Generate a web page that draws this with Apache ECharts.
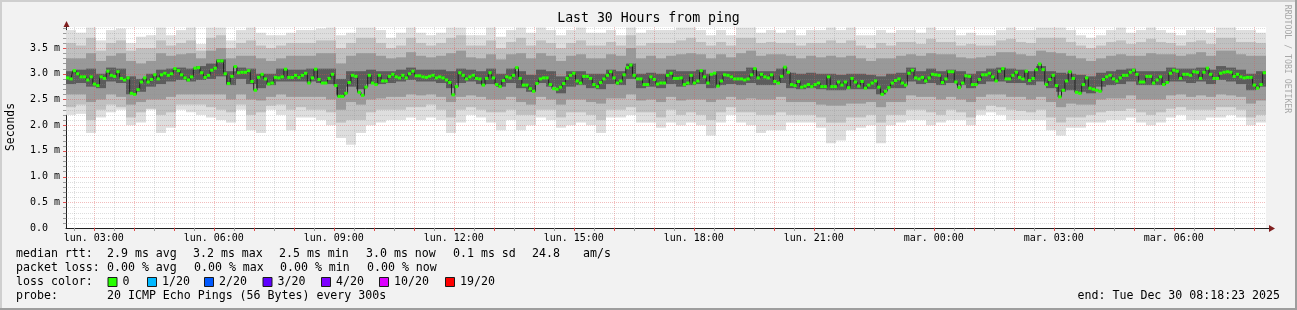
<!DOCTYPE html>
<html><head><meta charset="utf-8">
<script src="https://cdn.jsdelivr.net/npm/echarts@6/dist/echarts.min.js"></script>
<style>html,body{margin:0;padding:0;background:#f2f2f2}#c{width:1297px;height:310px}</style>
</head><body><div id="c"></div>
<script>
// ---------- data ----------
const START_HOUR = 2 + 18/60 + 23/3600;   // lun. 02:18:23
const SPAN_HOURS = 30;
const SMOKE_STEP_HOURS = 0.25;
const Y_MAX = 3.91;

// median rtt (ms), one value per ~5 min sample
const medianRtt = [
2.92,2.90,3.06,3.00,2.94,2.94,2.88,2.94,2.80,2.77,
2.94,2.91,3.05,2.97,2.95,3.04,2.91,2.88,2.92,2.62,
2.60,2.69,2.84,2.92,2.84,2.89,2.98,2.90,2.98,3.01,
2.97,3.00,3.10,3.06,2.98,2.92,2.88,2.94,3.11,3.12,
3.02,2.93,2.97,3.07,3.11,3.25,3.25,3.00,2.81,2.95,
3.14,3.02,3.03,3.03,3.06,2.85,2.68,2.93,2.99,2.90,
2.80,2.82,2.93,2.92,2.94,3.09,2.93,2.93,2.97,2.93,
2.97,3.01,
2.82,2.92,3.09,2.89,2.82,2.82,2.91,2.99,2.77,2.56,
2.56,2.62,2.83,2.97,2.95,2.64,2.58,2.74,2.97,2.82,
2.79,2.97,2.86,2.86,2.95,2.99,2.94,2.92,2.97,2.92,
3.00,3.05,2.96,2.96,2.94,2.93,2.95,2.97,2.92,2.94,
2.92,2.88,2.83,2.59,2.75,3.02,2.97,2.90,2.94,2.97,
2.91,2.90,2.78,2.91,3.02,2.92,2.79,2.75,2.87,2.94,
2.92,2.97,3.12,2.91,2.78,2.78,2.71,2.66,2.81,2.90,
2.92,2.92,
2.79,2.71,2.70,2.74,2.81,2.91,2.97,3.01,2.86,2.82,
2.95,2.95,2.91,2.79,2.75,2.83,2.90,2.97,3.04,2.92,
2.82,2.86,2.98,3.12,3.17,2.97,2.90,2.90,2.79,2.79,
2.94,2.89,2.80,2.82,2.82,2.97,3.01,2.91,2.91,2.92,
2.79,2.82,2.97,2.82,2.86,3.06,2.94,2.82,2.99,3.01,
2.76,2.86,2.98,2.97,2.94,2.90,2.90,2.90,2.88,2.90,
2.98,3.10,2.92,2.99,2.94,2.92,2.98,2.85,2.82,2.95,
3.13,3.03,
2.79,2.77,2.85,2.74,2.76,2.79,2.75,2.79,2.82,2.75,
2.75,2.94,2.75,2.75,2.84,2.78,2.84,2.73,2.91,2.84,
2.76,2.85,2.72,2.78,2.82,2.86,2.74,2.60,2.66,2.73,
2.82,2.87,2.90,2.82,2.78,3.01,3.07,2.92,2.90,2.93,
2.86,2.92,2.99,2.98,2.97,2.83,2.90,3.04,3.04,2.84,
2.73,2.82,2.96,2.95,2.79,2.79,2.89,2.98,2.98,3.01,
2.94,2.86,3.05,3.10,2.90,2.90,2.97,3.03,2.93,2.90,
3.05,2.87,
2.91,3.08,3.19,3.08,2.79,2.89,2.97,2.77,2.55,2.68,
2.86,3.04,2.91,2.64,2.62,2.79,2.92,2.72,2.70,2.68,
2.66,2.89,2.94,2.97,2.90,2.86,2.92,2.97,2.97,3.03,
3.07,2.99,2.84,2.84,2.95,2.95,2.82,2.88,2.94,2.79,
2.83,3.01,3.07,3.05,2.91,2.99,2.99,2.97,3.04,3.03,
2.91,3.03,3.11,2.99,2.91,2.91,3.01,3.03,3.04,3.03,
2.95,2.99,2.94,2.92,2.93,2.93,2.78,2.72,2.79,3.02
];

// smoke: ping spread per 15-min column, outermost (1) to innermost (4)
const smokeUp1 = [
3.85,3.80,3.90,3.65,3.85,3.88,3.60,3.72,3.75,3.90,3.75,3.85,3.90,3.58,3.90,3.90,3.65,3.85,3.90,3.80,3.75,3.75,3.80,3.85,
3.85,3.88,3.90,3.75,3.80,3.90,3.90,3.85,3.70,3.80,3.90,3.80,3.75,3.80,3.90,3.90,3.75,3.75,3.90,3.72,3.85,3.90,3.80,3.90,
3.85,3.75,3.85,3.90,3.80,3.80,3.85,3.75,3.90,3.80,3.85,3.85,3.85,3.90,3.90,3.85,3.75,3.85,3.75,3.90,3.90,3.80,3.85,3.80,
3.85,3.75,3.85,3.85,3.90,3.85,3.90,3.75,3.75,3.85,3.80,3.85,3.85,3.80,3.90,3.85,3.85,3.75,3.80,3.75,3.75,3.85,3.90,3.85,
3.85,3.90,3.90,3.90,3.85,3.75,3.70,3.75,3.85,3.90,3.80,3.85,3.90,3.85,3.80,3.75,3.85,3.85,3.80,3.90,3.90,3.85,3.85,3.80];
const smokeUp2 = [
3.60,3.55,3.70,3.45,3.60,3.65,3.45,3.50,3.50,3.65,3.55,3.60,3.65,3.45,3.70,3.75,3.50,3.60,3.65,3.55,3.50,3.55,3.60,3.60,
3.60,3.65,3.65,3.50,3.60,3.70,3.70,3.60,3.50,3.55,3.70,3.60,3.55,3.60,3.70,3.75,3.55,3.55,3.65,3.50,3.62,3.70,3.55,3.65,
3.60,3.50,3.60,3.65,3.55,3.55,3.62,3.55,3.75,3.55,3.60,3.60,3.60,3.65,3.70,3.62,3.55,3.62,3.55,3.70,3.70,3.60,3.62,3.60,
3.60,3.55,3.60,3.60,3.65,3.60,3.65,3.55,3.50,3.60,3.55,3.62,3.62,3.58,3.68,3.62,3.62,3.55,3.58,3.55,3.55,3.65,3.68,3.62,
3.60,3.70,3.70,3.70,3.62,3.55,3.50,3.55,3.62,3.65,3.58,3.62,3.68,3.62,3.60,3.55,3.62,3.65,3.58,3.70,3.70,3.62,3.62,3.60];
const smokeUp3 = [
3.30,3.30,3.40,3.25,3.35,3.40,3.25,3.20,3.25,3.40,3.35,3.38,3.40,3.30,3.45,3.50,3.30,3.35,3.35,3.30,3.25,3.30,3.35,3.35,
3.35,3.40,3.40,3.20,3.35,3.40,3.40,3.35,3.30,3.32,3.42,3.35,3.32,3.35,3.40,3.45,3.32,3.30,3.38,3.28,3.38,3.40,3.30,3.40,
3.35,3.25,3.35,3.38,3.30,3.30,3.38,3.35,3.50,3.30,3.35,3.30,3.35,3.38,3.40,3.38,3.30,3.38,3.32,3.40,3.45,3.35,3.38,3.38,
3.35,3.30,3.35,3.32,3.35,3.32,3.35,3.30,3.25,3.30,3.30,3.35,3.38,3.35,3.40,3.38,3.38,3.32,3.30,3.32,3.35,3.42,3.42,3.38,
3.35,3.45,3.42,3.40,3.35,3.30,3.25,3.30,3.35,3.38,3.35,3.35,3.40,3.38,3.38,3.35,3.38,3.42,3.35,3.45,3.45,3.38,3.35,3.35];
const smokeUp4 = [
3.05,3.08,3.10,3.00,3.12,3.10,2.95,2.90,3.00,3.08,3.10,3.12,3.10,3.15,3.20,3.28,3.05,3.12,3.10,3.00,3.00,3.10,3.08,3.08,
3.10,3.10,3.10,2.90,3.05,3.05,3.08,3.05,3.05,3.08,3.12,3.08,3.08,3.08,3.05,3.10,3.08,3.05,3.10,3.00,3.10,3.05,2.98,3.08,
3.05,2.95,3.05,3.05,3.00,3.00,3.08,3.05,3.20,3.00,3.02,3.00,3.08,3.05,3.05,3.08,3.00,3.05,3.05,3.05,3.12,3.05,3.05,3.10,
3.02,3.00,3.02,3.00,3.00,2.98,3.00,3.00,2.98,2.95,3.00,3.02,3.12,3.05,3.10,3.05,3.08,3.05,3.00,3.05,3.10,3.12,3.10,3.08,
3.05,3.15,3.05,3.02,3.00,2.98,2.95,3.02,3.05,3.08,3.10,3.05,3.05,3.05,3.12,3.10,3.10,3.12,3.08,3.15,3.12,3.08,3.00,3.05];
const smokeDn4 = [
2.80,2.82,2.75,2.72,2.85,2.82,2.60,2.65,2.75,2.80,2.85,2.88,2.85,2.88,2.90,2.95,2.78,2.90,2.80,2.72,2.78,2.85,2.85,2.85,
2.85,2.82,2.80,2.58,2.75,2.70,2.80,2.80,2.82,2.85,2.88,2.85,2.85,2.82,2.72,2.82,2.85,2.80,2.80,2.75,2.82,2.72,2.65,2.82,
2.75,2.62,2.75,2.78,2.72,2.70,2.80,2.78,2.90,2.72,2.75,2.72,2.80,2.75,2.78,2.80,2.72,2.78,2.80,2.78,2.82,2.78,2.78,2.82,
2.72,2.70,2.72,2.70,2.68,2.68,2.70,2.70,2.70,2.60,2.72,2.72,2.85,2.80,2.82,2.78,2.82,2.78,2.72,2.80,2.85,2.85,2.82,2.82,
2.78,2.85,2.72,2.65,2.68,2.65,2.62,2.75,2.78,2.80,2.85,2.78,2.78,2.78,2.85,2.85,2.82,2.85,2.80,2.88,2.85,2.80,2.68,2.75];
const smokeDn3 = [
2.60,2.60,2.45,2.50,2.60,2.55,2.40,2.45,2.50,2.50,2.55,2.60,2.60,2.60,2.60,2.60,2.50,2.60,2.50,2.48,2.55,2.60,2.55,2.55,
2.55,2.55,2.50,2.30,2.45,2.40,2.50,2.52,2.55,2.55,2.60,2.58,2.60,2.55,2.45,2.55,2.58,2.55,2.50,2.50,2.55,2.45,2.40,2.55,
2.50,2.40,2.50,2.50,2.45,2.42,2.52,2.52,2.60,2.48,2.50,2.45,2.55,2.48,2.50,2.50,2.45,2.50,2.55,2.50,2.52,2.50,2.50,2.55,
2.45,2.45,2.45,2.40,2.38,2.38,2.42,2.42,2.45,2.35,2.45,2.45,2.58,2.55,2.55,2.50,2.55,2.50,2.45,2.55,2.60,2.60,2.55,2.55,
2.50,2.55,2.45,2.35,2.42,2.40,2.40,2.50,2.52,2.52,2.58,2.50,2.50,2.50,2.58,2.60,2.55,2.58,2.55,2.60,2.58,2.55,2.42,2.48];
const smokeDn2 = [
2.35,2.40,2.10,2.30,2.40,2.35,2.15,2.25,2.32,2.20,2.25,2.40,2.40,2.40,2.35,2.30,2.25,2.40,2.20,2.25,2.38,2.40,2.30,2.35,
2.30,2.30,2.25,2.05,2.10,2.10,2.25,2.30,2.30,2.30,2.35,2.35,2.40,2.30,2.15,2.30,2.35,2.30,2.25,2.25,2.30,2.20,2.20,2.30,
2.30,2.15,2.25,2.25,2.20,2.10,2.30,2.30,2.35,2.25,2.25,2.15,2.30,2.20,2.25,2.20,2.10,2.25,2.35,2.25,2.25,2.20,2.20,2.25,
2.20,2.20,2.20,2.15,2.05,2.05,2.15,2.15,2.20,2.05,2.20,2.20,2.30,2.30,2.25,2.20,2.30,2.25,2.15,2.30,2.38,2.35,2.30,2.28,
2.25,2.30,2.15,2.05,2.15,2.15,2.20,2.25,2.28,2.28,2.32,2.25,2.20,2.25,2.32,2.35,2.30,2.30,2.30,2.35,2.35,2.30,2.15,2.20];
const smokeDn1 = [
2.20,2.22,1.85,2.15,2.25,2.30,2.00,2.05,2.30,1.85,1.95,2.30,2.25,2.20,2.15,2.10,2.05,2.30,1.90,1.85,2.30,2.20,1.90,2.15,
2.15,2.10,2.00,1.75,1.62,1.85,2.00,2.05,2.10,2.10,2.15,2.10,2.15,2.10,1.85,2.05,2.20,2.15,2.05,1.90,2.10,1.90,2.00,2.15,
2.10,1.95,2.00,2.05,2.00,1.85,2.15,2.15,2.20,2.05,2.05,1.95,2.05,2.00,2.05,2.00,1.80,2.05,2.20,2.05,2.00,1.85,1.90,1.90,
2.05,2.05,2.05,1.95,1.65,1.70,1.90,1.95,2.00,1.65,2.00,2.05,2.10,2.10,2.00,2.05,2.10,2.10,2.00,2.20,2.25,2.20,2.10,2.10,
2.10,2.10,1.90,1.80,1.95,1.95,2.05,2.05,2.10,2.10,2.15,2.05,2.00,2.05,2.15,2.20,2.10,2.10,2.15,2.15,2.20,2.15,2.00,2.05];

// axis ticks / labels
const xLabelHours = [3,6,9,12,15,18,21,24,27,30];
const xLabelTexts = ['lun. 03:00','lun. 06:00','lun. 09:00','lun. 12:00','lun. 15:00','lun. 18:00','lun. 21:00','mar. 00:00','mar. 03:00','mar. 06:00'];
const yTickValues = [0,0.5,1.0,1.5,2.0,2.5,3.0,3.5];
const yTickLabels = ['0.0','0.5 m','1.0 m','1.5 m','2.0 m','2.5 m','3.0 m','3.5 m'];
const hourGrid = [3,4,5,6,7,8,9,10,11,12,13,14,15,16,17,18,19,20,21,22,23,24,25,26,27,28,29,30,31,32];
const halfHourGrid = [2.5,3.5,4.5,5.5,6.5,7.5,8.5,9.5,10.5,11.5,12.5,13.5,14.5,15.5,16.5,17.5,18.5,19.5,20.5,21.5,22.5,23.5,24.5,25.5,26.5,27.5,28.5,29.5,30.5,31.5];
const yMajorGrid = [0.5,1.0,1.5,2.0,2.5,3.0,3.5];
const yMinorGrid = [0.1,0.2,0.3,0.4,0.6,0.7,0.8,0.9,1.1,1.2,1.3,1.4,1.6,1.7,1.8,1.9,2.1,2.2,2.3,2.4,2.6,2.7,2.8,2.9,3.1,3.2,3.3,3.4,3.6,3.7,3.8,3.9];

// legend texts
const titleText = 'Last 30 Hours from ping';
const yAxisName = 'Seconds';
const rttStats = ['2.9 ms avg','3.2 ms max','2.5 ms min','3.0 ms now','0.1 ms sd','24.8','am/s'];
const lossStats = ['0.00 % avg','0.00 % max','0.00 % min','0.00 % now'];
const lossLabels = ['0','1/20','2/20','3/20','4/20','10/20','19/20'];
const lossColors = ['#26ff00','#00b8ff','#0059ff','#5e00ff','#7e00ff','#dd00ff','#ff0000'];
const probeText = '20 ICMP Echo Pings (56 Bytes) every 300s';
const endText = 'end: Tue Dec 30 08:18:23 2025';
const watermark = 'RRDTOOL / TOBI OETIKER';

// ---------- build ----------
const N = medianRtt.length;
const sampleW = SPAN_HOURS / N;
const medianRects = medianRtt.map((v,i)=>[START_HOUR+i*sampleW, START_HOUR+(i+1)*sampleW, v]);
const medianLine = medianRtt.map((v,i)=>[START_HOUR+(i+0.5)*sampleW, v]);
const smokeData = smokeUp1.map((_,j)=>[START_HOUR+j*SMOKE_STEP_HOURS, START_HOUR+(j+1)*SMOKE_STEP_HOURS,
  smokeDn1[j], smokeDn2[j], smokeDn3[j], smokeDn4[j], smokeUp4[j], smokeUp3[j], smokeUp2[j], smokeUp1[j]]);
const gridData = [];
halfHourGrid.forEach(h=>gridData.push([h,0,0]));
hourGrid.forEach(h=>gridData.push([h,0,1]));
yMinorGrid.forEach(v=>gridData.push([START_HOUR,v,2]));
yMajorGrid.forEach(v=>gridData.push([START_HOUR,v,3]));

const SMOKE_COLORS = ['#dedede','#c0c0c0','#999999','#5c5c5c'];
const MINOR = 'rgba(143,143,143,0.3)';
const MAJOR = 'rgba(222,79,79,0.38)';
const MONO = '"DejaVu Sans Mono", monospace';
const LFONT = '11.6px ' + MONO;

function renderSmoke(params, api){
  const x0 = api.value(0), x1 = api.value(1);
  const children = [];
  for (let k=0;k<4;k++){
    const lo = api.value(2+k), hi = api.value(9-k);
    const a = api.coord([x0, hi]), b = api.coord([x1, lo]);
    children.push({type:'rect', shape:{x:a[0], y:a[1], width:b[0]-a[0], height:b[1]-a[1]}, style:{fill:SMOKE_COLORS[k]}});
  }
  return {type:'group', children};
}
function renderGrid(params, api){
  const kind = api.value(2);
  const col = (kind===1||kind===3) ? MAJOR : MINOR;
  if (kind < 2){
    const b = api.coord([api.value(0), 0]);
    const t = api.coord([api.value(0), Y_MAX]);
    const x = Math.round(b[0]) + 0.5;
    return {type:'group', children:[
      {type:'line', shape:{x1:x,y1:b[1],x2:x,y2:t[1]}, style:{stroke:col, lineWidth:1, lineDash:[1,1]}},
      {type:'line', shape:{x1:x,y1:b[1],x2:x,y2:b[1]+3}, style:{stroke:kind?'#de4f4f':'#9a9a9a', lineWidth:1}}
    ]};
  } else {
    const l = api.coord([START_HOUR, api.value(1)]);
    const r = api.coord([START_HOUR+SPAN_HOURS, api.value(1)]);
    const y = Math.round(l[1]) + 0.5;
    return {type:'group', children:[
      {type:'line', shape:{x1:l[0],y1:y,x2:r[0],y2:y}, style:{stroke:col, lineWidth:1, lineDash:[1,1]}},
      {type:'line', shape:{x1:l[0]-3,y1:y,x2:l[0],y2:y}, style:{stroke:kind===3?'#de4f4f':'#9a9a9a', lineWidth:1}}
    ]};
  }
}
function renderMedian(params, api){
  const a = api.coord([api.value(0), api.value(2)]);
  const b = api.coord([api.value(1), api.value(2)]);
  return {type:'rect', shape:{x:a[0], y:a[1]-1.5, width:b[0]-a[0], height:3}, style:{fill:lossColors[0]}};
}

function txt(text, x, y, opts){
  return Object.assign({type:'text', x, y, silent:true, style:Object.assign({text, fill:'#000', font:LFONT, textAlign:'left', textVerticalAlign:'middle'}, (opts&&opts.style)||{})}, opts&&opts.el||{});
}
const graphics = [];
// frame
graphics.push({type:'rect', shape:{x:0,y:0,width:1297,height:2}, style:{fill:'#cfcfcf'}, silent:true});
graphics.push({type:'rect', shape:{x:0,y:0,width:2,height:310}, style:{fill:'#cfcfcf'}, silent:true});
graphics.push({type:'rect', shape:{x:0,y:308,width:1297,height:2}, style:{fill:'#9e9e9e'}, silent:true});
graphics.push({type:'rect', shape:{x:1295,y:0,width:2,height:310}, style:{fill:'#9e9e9e'}, silent:true});
// arrows
graphics.push({type:'polygon', shape:{points:[[63.5,27],[69.5,27],[66.5,21]]}, style:{fill:'#801f1f'}, silent:true, z:10});
graphics.push({type:'line', shape:{x1:1266,y1:228.5,x2:1270,y2:228.5}, style:{stroke:'#1f1f1f', lineWidth:1}, silent:true, z:10});
graphics.push({type:'polygon', shape:{points:[[1269,225],[1269,232],[1275,228.5]]}, style:{fill:'#801f1f'}, silent:true, z:10});
// title, axis name, watermark
graphics.push(txt(titleText, 648.5, 19, {style:{font:'13.2px '+MONO, textAlign:'center'}}));
graphics.push(txt(yAxisName, 11, 127, {style:{font:'11.4px '+MONO, textAlign:'center'}, el:{rotation:Math.PI/2}}));
graphics.push(txt(watermark, 1287, 59, {style:{font:'8.2px '+MONO, textAlign:'center', fill:'#a8a8a8'}, el:{rotation:-Math.PI/2}}));
// legend line 1
graphics.push(txt('median rtt:', 16, 254));
[107,193,279,366,453,532,583].forEach((x,i)=>graphics.push(txt(rttStats[i], x, 254)));
// line 2
graphics.push(txt('packet loss:', 16, 268));
[107,194,280,367].forEach((x,i)=>graphics.push(txt(lossStats[i], x, 268)));
// line 3
graphics.push(txt('loss color:', 16, 282));
[107.5,147,204,262.5,321,379,445].forEach((x,i)=>{
  graphics.push({type:'rect', shape:{x:x+0.5,y:277.5,width:9,height:9}, style:{fill:lossColors[i], stroke:'#1a1a1a', lineWidth:1}, silent:true});
  graphics.push(txt(lossLabels[i], x+15, 282));
});
// line 4
graphics.push(txt('probe:', 16, 296));
graphics.push(txt(probeText, 107, 296));
graphics.push(txt(endText, 1280, 296, {style:{textAlign:'right'}}));

const chart = echarts.init(document.getElementById('c'), null, {renderer:'canvas'});
chart.setOption({
  animation:false,
  backgroundColor:'#f2f2f2',
  grid:{left:66, top:27, width:1200, height:201, show:true, backgroundColor:'#ffffff', borderWidth:0},
  xAxis:{
    type:'value', min:START_HOUR, max:START_HOUR+SPAN_HOURS,
    axisLine:{show:true, onZero:false, lineStyle:{color:'#1f1f1f', width:1}},
    axisTick:{show:false}, splitLine:{show:false},
    axisLabel:{customValues:xLabelHours, showMinLabel:true, showMaxLabel:true, hideOverlap:false,
      formatter:v=>{const i=xLabelHours.findIndex(h=>Math.abs(h-v)<1e-6); return i>=0?xLabelTexts[i]:'';},
      fontFamily:'DejaVu Sans Mono', fontSize:10, color:'#000', margin:5}
  },
  yAxis:{
    type:'value', min:0, max:Y_MAX, interval:0.5,
    axisLine:{show:true, lineStyle:{color:'#1f1f1f', width:1}},
    axisTick:{show:false}, splitLine:{show:false},
    axisLabel:{align:'left', margin:36, fontFamily:'DejaVu Sans Mono', fontSize:10, color:'#000', showMaxLabel:true,
      formatter:v=>{const i=yTickValues.findIndex(t=>Math.abs(t-v)<1e-6); return i>=0?yTickLabels[i]:'';}}
  },
  series:[
    {type:'custom', name:'smoke', renderItem:renderSmoke, data:smokeData, encode:{x:[0,1], y:[2,3,4,5,6,7,8,9]}, z:1, silent:true},
    {type:'custom', name:'grid', renderItem:renderGrid, data:gridData, encode:{x:0, y:1}, clip:false, z:2, silent:true},
    {type:'line', name:'median link', data:medianLine, step:'middle', showSymbol:false, lineStyle:{color:'#202020', width:1}, z:3, silent:true},
    {type:'custom', name:'median rtt', renderItem:renderMedian, data:medianRects, encode:{x:[0,1], y:2}, z:4, silent:true}
  ],
  graphic:graphics
});
</script></body></html>
